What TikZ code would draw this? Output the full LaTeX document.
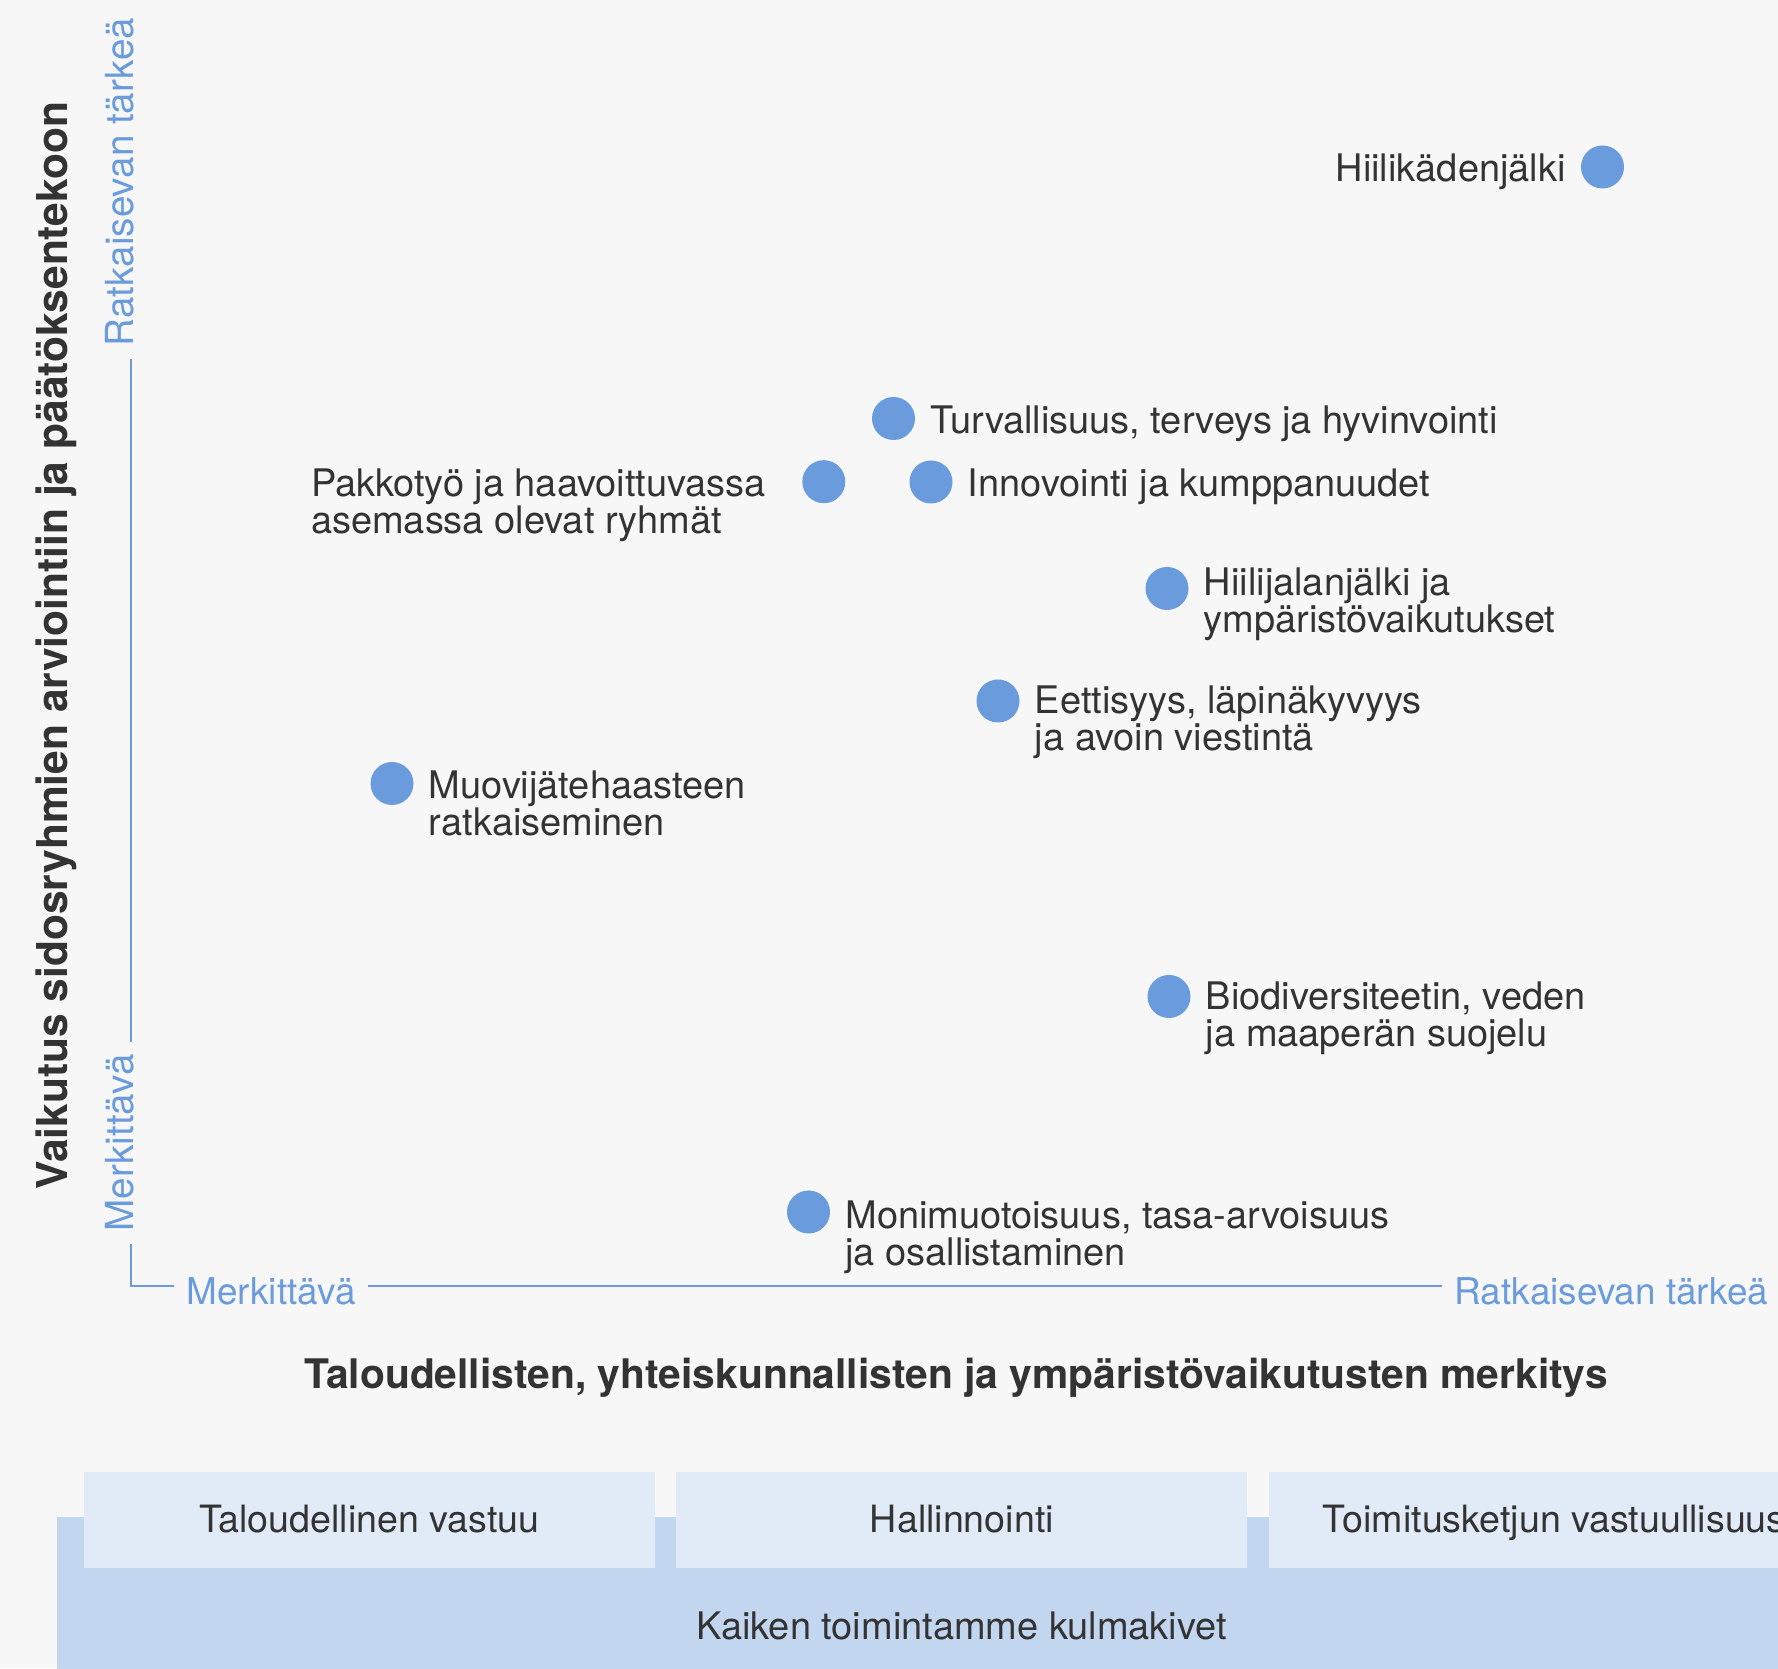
\documentclass[tikz,border=0pt]{standalone}
\usepackage{fontspec}
\setmainfont{TeX Gyre Heros}
\usetikzlibrary{positioning}
\definecolor{bg}{HTML}{F7F7F7}
\definecolor{dotblue}{HTML}{6A9BDC}
\definecolor{txt}{HTML}{333333}
\definecolor{basebox}{HTML}{C3D6F0}
\definecolor{topbox}{HTML}{E1EBF7}

\begin{document}
\begin{tikzpicture}[
 dot/.style = {circle, fill = dotblue, inner sep = 0pt, minimum size = 0.43cm},
 lbl/.style = {font = \fontsize{10.8}{10.5}\selectfont, text = txt, inner sep = 0pt, align = left},
 lblr/.style = {lbl, anchor = north west, yshift = 1.37mm},
 lbll/.style = {lbl, anchor = north east, yshift = 1.37mm},
 axlbl/.style = {font = \fontsize{10.5}{12}\selectfont, text = dotblue, inner ysep = 0pt, inner xsep = 0.12cm},
 axis/.style = {draw = dotblue, line width = 0.85pt},
 title/.style = {font = \fontsize{11.6}{14}\selectfont\bfseries, text = txt, inner sep = 0pt},
 pillar/.style = {fill = topbox, text = txt, minimum width = 5.71cm, minimum height = 0.96cm, inner sep = 0pt, text height = 0.72em, text depth = 0pt, font = \fontsize{10.7}{12}\selectfont}
]

\useasboundingbox (0,0) rectangle (17.78,16.68);
\clip (0,0) rectangle (17.78,16.68);
\fill [bg] (0,0) rectangle (17.78,16.68);

\node (xt) at (9.56,2.80) [title, anchor = base] {Taloudellisten, yhteiskunnallisten ja ympäristövaikutusten merkitys};
\node (yt) at (0.68,10.225) [title, rotate = 90, anchor = base, font = \fontsize{12.1}{14}\selectfont\bfseries] {Vaikutus sidosryhmien arviointiin ja päätöksentekoon};

\coordinate (o) at (1.31,3.82);
\node (xm) at (1.74,3.63) [axlbl, anchor = base west] {Merkittävä};
\node (xr) at (14.42,3.63) [axlbl, anchor = base west] {Ratkaisevan tärkeä};
\node (ym) at (1.34,4.24) [axlbl, rotate = 90, anchor = base west, font = \fontsize{11}{12}\selectfont] {Merkittävä};
\node (yr) at (1.33,13.09) [axlbl, rotate = 90, anchor = base west, font = \fontsize{11}{12}\selectfont] {Ratkaisevan tärkeä};
\draw [axis] (o |- ym.west) -- (o) -- (o -| xm.west);
\draw [axis] (xm.east |- o) -- (xr.west |- o);
\draw [axis] (ym.east -| o) -- (yr.west -| o);

\node (hk) at (16.025,15.01) [dot] {};
\node (tur) at (8.935,12.495) [dot] {};
\node (pak) at (8.238,11.863) [dot] {};
\node (inn) at (9.31,11.86) [dot] {};
\node (hj) at (11.67,10.795) [dot] {};
\node (eet) at (9.98,9.67) [dot] {};
\node (muo) at (3.92,8.845) [dot] {};
\node (bio) at (11.69,6.715) [dot] {};
\node (mon) at (8.085,4.56) [dot] {};

\node (hk-t) [left = 0.14cm of hk, lbll] {Hiilikädenjälki};
\node (tur-t) [right = 0.14cm of tur, lblr] {Turvallisuus, terveys ja hyvinvointi};
\node (pak-t) [left = 0.35cm of pak, lbll] {Pakkotyö ja haavoittuvassa\\asemassa olevat ryhmät};
\node (inn-t) [right = 0.14cm of inn, lblr] {Innovointi ja kumppanuudet};
\node (hj-t) [right = 0.14cm of hj, lblr, yshift = 0.08cm] {Hiilijalanjälki ja\\ympäristövaikutukset};
\node (eet-t) [right = 0.14cm of eet, lblr, yshift = 0.02cm] {Eettisyys, läpinäkyvyys\\ja avoin viestintä};
\node (muo-t) [right = 0.14cm of muo, lblr] {Muovijätehaasteen\\ratkaiseminen};
\node (bio-t) [right = 0.14cm of bio, lblr, yshift = 0.02cm] {Biodiversiteetin, veden\\ja maaperän suojelu};
\node (mon-t) [right = 0.14cm of mon, lblr, yshift = -0.02cm] {Monimuotoisuus, tasa-arvoisuus\\ja osallistaminen};

\node (base) at (9.615,0.42) [fill = basebox, text = txt, minimum width = 18.09cm, minimum height = 2.18cm, inner sep = 0pt, font = \fontsize{10.8}{12}\selectfont] {Kaiken toimintamme kulmakivet};
\node (p1) at (3.695,1.48) [pillar] {Taloudellinen vastuu};
\node (p2) [pillar, right = 0.2cm of p1] {Hallinnointi};
\node (p3) [pillar, right = 0.2cm of p2] {Toimitusketjun vastuullisuus};

\end{tikzpicture}
\end{document}
